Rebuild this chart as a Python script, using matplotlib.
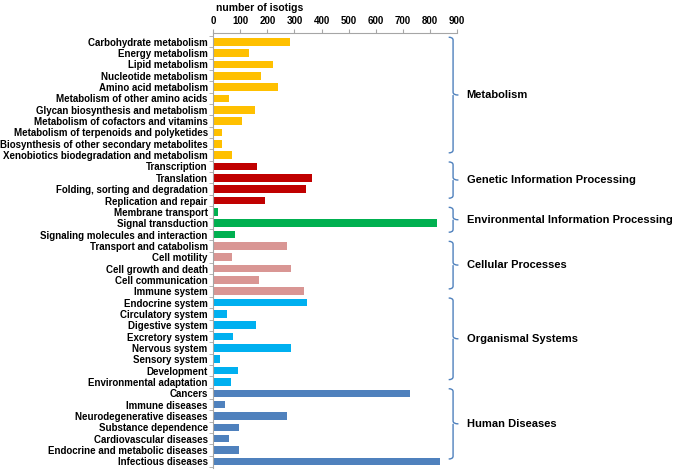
import matplotlib
matplotlib.use('Agg')
import matplotlib.pyplot as plt
from matplotlib.path import Path
from matplotlib.patches import PathPatch

plt.rcParams['font.family'] = ['Liberation Sans', 'DejaVu Sans']
plt.rcParams['font.weight'] = 'bold'

groups = ['Metabolism', 'Genetic Information Processing', 'Environmental Information Processing',
          'Cellular Processes', 'Organismal Systems', 'Human Diseases']
group_colors = ['#FFC000', '#C00000', '#00B050', '#D99694', '#00B0F0', '#4F81BD']

metabolism = ['Carbohydrate metabolism', 'Energy metabolism', 'Lipid metabolism',
              'Nucleotide metabolism', 'Amino acid metabolism', 'Metabolism of other amino acids',
              'Glycan biosynthesis and metabolism', 'Metabolism of cofactors and vitamins',
              'Metabolism of terpenoids and polyketides', 'Biosynthesis of other secondary metabolites',
              'Xenobiotics biodegradation and metabolism']
metabolism_vals = [283, 132, 221, 178, 239, 60, 153, 108, 31, 31, 70]

genetic = ['Transcription', 'Translation', 'Folding, sorting and degradation', 'Replication and repair']
genetic_vals = [162, 363, 342, 191]

environmental = ['Membrane transport', 'Signal transduction', 'Signaling molecules and interaction']
environmental_vals = [18, 825, 79]

cellular = ['Transport and catabolism', 'Cell motility', 'Cell growth and death',
            'Cell communication', 'Immune system']
cellular_vals = [271, 68, 286, 170, 336]

organismal = ['Endocrine system', 'Circulatory system', 'Digestive system', 'Excretory system',
              'Nervous system', 'Sensory system', 'Development', 'Environmental adaptation']
organismal_vals = [345, 52, 158, 73, 289, 25, 92, 64]

diseases = ['Cancers', 'Immune diseases', 'Neurodegenerative diseases', 'Substance dependence',
            'Cardiovascular diseases', 'Endocrine and metabolic diseases', 'Infectious diseases']
diseases_vals = [727, 44, 273, 96, 60, 95, 838]

all_cats = [metabolism, genetic, environmental, cellular, organismal, diseases]
all_vals = [metabolism_vals, genetic_vals, environmental_vals, cellular_vals, organismal_vals, diseases_vals]


def brace(ax, top, bottom, x=0.984, w=0.018, tip=0.022):
    # curly brace pointing right, x in axes coords, y in data coords (inverted axis)
    mid = (top + bottom) / 2.0
    r = 0.25
    verts = [(x - w, top), (x, top), (x, top + r),
             (x, mid - r), (x, mid), (x + tip, mid),
             (x, mid), (x, mid + r),
             (x, bottom - r), (x, bottom), (x - w, bottom)]
    codes = [Path.MOVETO, Path.CURVE3, Path.CURVE3,
             Path.LINETO, Path.CURVE3, Path.CURVE3,
             Path.MOVETO, Path.LINETO,
             Path.LINETO, Path.CURVE3, Path.CURVE3]
    p = PathPatch(Path(verts, codes), transform=ax.get_yaxis_transform(),
                  fill=False, edgecolor='#4F81BD', lw=1.0, clip_on=False)
    ax.add_patch(p)


fig = plt.figure(figsize=(6.79, 4.72), dpi=100)
ax = fig.add_axes([0.314, 0.0095, 0.359, 0.9205])

labels = []
pos = 0
for gname, color, cats, vals in zip(groups, group_colors, all_cats, all_vals):
    ys = list(range(pos, pos + len(cats)))
    ax.barh(ys, vals, height=0.66, color=color)
    labels += cats
    top = pos - 0.4
    bottom = pos + len(cats) - 1 - 0.2
    brace(ax, top, bottom)
    ax.text(1.04, (top + bottom) / 2, gname, transform=ax.get_yaxis_transform(),
            ha='left', va='center', fontsize=8, fontweight='bold')
    pos += len(cats)

n = len(labels)
ax.set_ylim(n - 1 + 0.55, -0.77)
ax.set_xlim(0, 900)
ax.set_yticks(range(n))
ax.set_yticklabels(labels, fontsize=7, fontweight='bold')
ax.set_yticks([i - 0.5 for i in range(n + 1)], minor=True)
ax.tick_params(axis='y', which='major', length=0, pad=4)
ax.tick_params(axis='y', which='minor', length=3, color='#A6A6A6')

ax.set_xticks(range(0, 901, 100))
ax.xaxis.tick_top()
ax.tick_params(axis='x', labelsize=7, length=3, color='#A6A6A6', pad=2)
for t in ax.get_xticklabels():
    t.set_fontweight('bold')
ax.xaxis.set_label_position('top')
ax.set_xlabel('number of isotigs', fontsize=7.5, fontweight='bold')
ax.xaxis.set_label_coords(0.19, 1.05)

for s in ['right', 'bottom']:
    ax.spines[s].set_visible(False)
for s in ['left', 'top']:
    ax.spines[s].set_color('#A6A6A6')
    ax.spines[s].set_linewidth(0.8)

fig.savefig('out.png', dpi=100)
